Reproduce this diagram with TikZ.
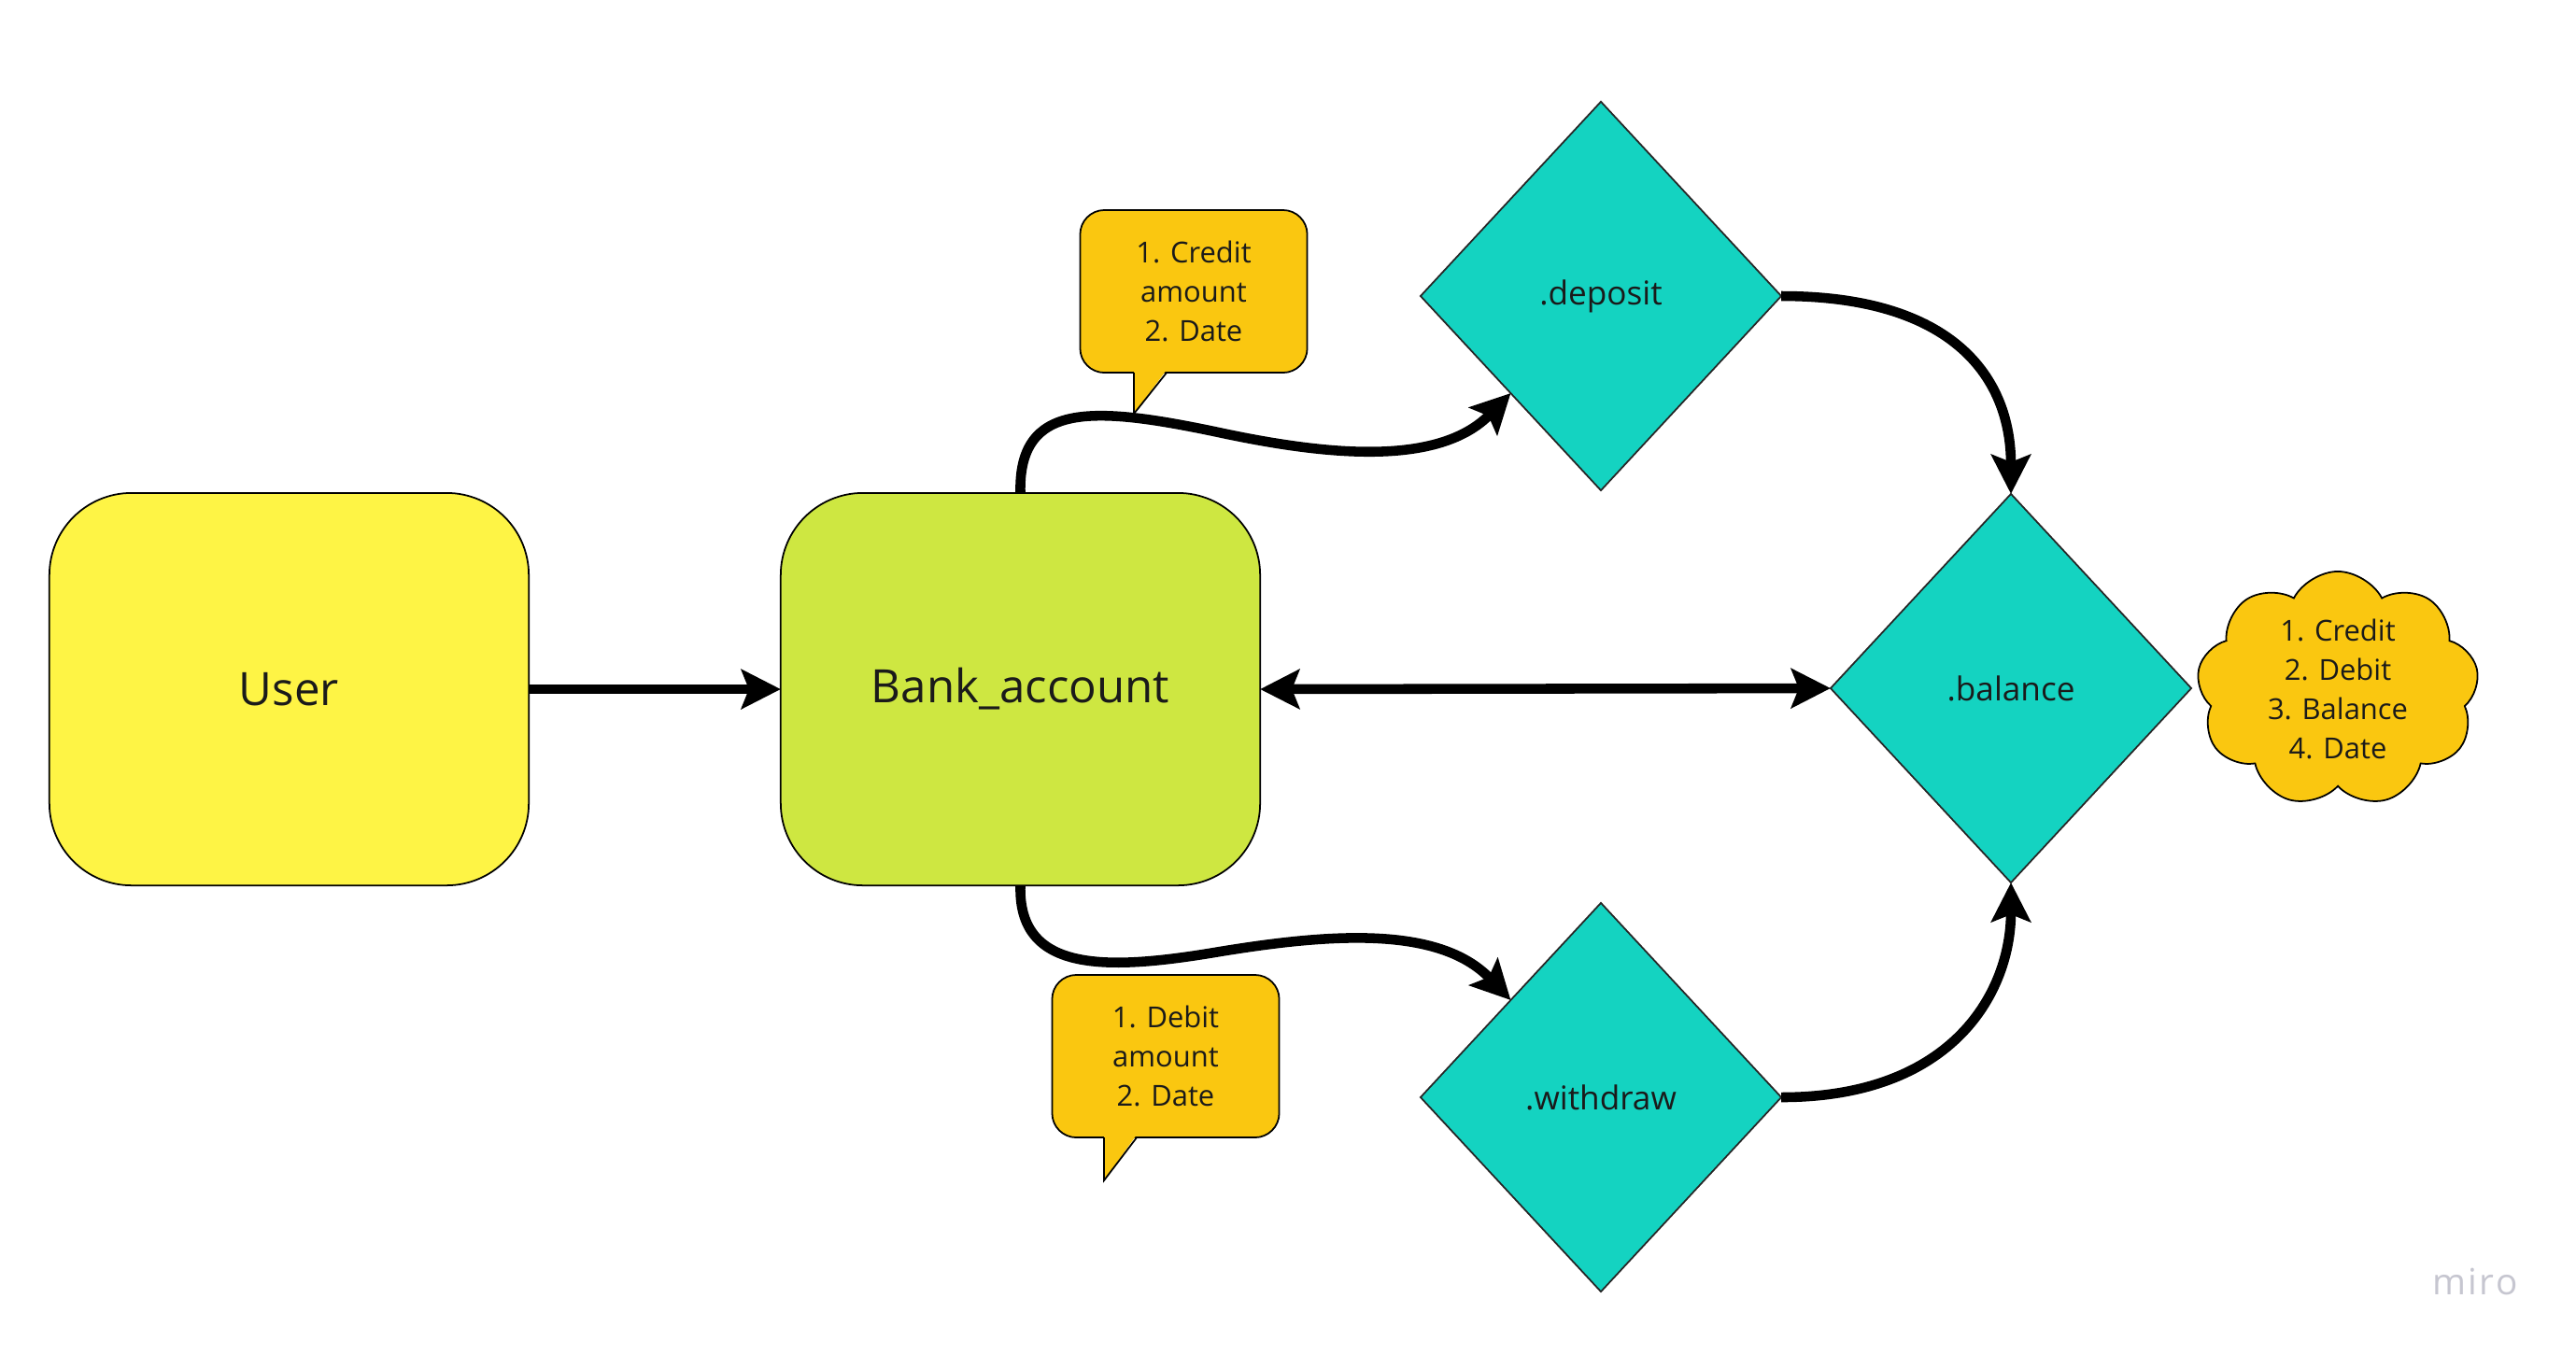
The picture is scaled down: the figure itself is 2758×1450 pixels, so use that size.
\documentclass[tikz,border=0pt]{standalone}
\usepackage{fontspec}
\setmainfont{Open Sans}
\newfontfamily\logofont[LetterSpace=6]{Open Sans}
\usetikzlibrary{shapes.geometric,shapes.symbols,arrows.meta,calc}
\definecolor{userY}{HTML}{FEF445}
\definecolor{bankG}{HTML}{CEE741}
\definecolor{diaT}{HTML}{14D3C1}
\definecolor{noteY}{HTML}{FAC710}
\definecolor{miroG}{HTML}{C6C6D0}
\definecolor{inkK}{HTML}{1A1A1A}
\tikzset{
  bigbox/.style={draw=black, line width=0.5pt, rounded corners=0.88cm,
    minimum width=5.13cm, minimum height=4.2cm, inner sep=0pt, outer sep=0pt,
    text=inkK, font=\fontsize{14}{17}\selectfont},
  dia/.style={diamond, draw=black!85, line width=0.5pt, fill=diaT,
    minimum width=3.86cm, minimum height=4.16cm, inner sep=0pt, outer sep=0pt,
    text=inkK, font=\fontsize{10}{12}\selectfont},
  notebox/.style={draw=black, line width=0.5pt, fill=noteY, rounded corners=0.26cm,
    minimum width=2.43cm, minimum height=1.74cm, inner sep=0pt, outer sep=0pt,
    align=center, text=inkK, font=\fontsize{8.8}{11.9}\selectfont},
  conn/.style={line width=3pt, -{Stealth[length=0.42cm, width=0.42cm, inset=0.08cm]}},
  conn2/.style={line width=3pt, {Stealth[length=0.42cm, width=0.42cm, inset=0.08cm]}-{Stealth[length=0.42cm, width=0.42cm, inset=0.08cm]}},
  tailedge/.style={draw=black, line width=0.5pt, line join=miter},
}
\begin{document}
\begin{tikzpicture}[x=0.01cm, y=-0.01cm]
\useasboundingbox (0,0) rectangle (2758,1450);
\fill[white] (0,0) rectangle (2758,1450);

% main boxes
\node[bigbox, fill=userY] (user) at (309.5,738) {User};
\node[bigbox, fill=bankG] (bank) at (1092.5,738) {Bank\_account};

% diamonds
\node[dia] (dep) at (1714,317) {.deposit};
\node[dia] (bal) at (2153,737) {.balance};
\node[dia] (wd) at (1714,1175) {.withdraw};

% callouts
\node[notebox] (c1) at (1278,312) {1. Credit\\amount\\2. Date};
\fill[noteY] ($(c1.south)+(-64,-3)$) -- ($(c1.south)+(-64,44)$) -- ($(c1.south)+(-29,-3)$) -- cycle;
\draw[tailedge] ($(c1.south)+(-64,0)$) -- ($(c1.south)+(-64,44)$) -- ($(c1.south)+(-29,0)$);

\node[notebox] (c2) at (1248,1131) {1. Debit\\amount\\2. Date};
\fill[noteY] ($(c2.south)+(-66,-3)$) -- ($(c2.south)+(-66,46)$) -- ($(c2.south)+(-31,-3)$) -- cycle;
\draw[tailedge] ($(c2.south)+(-66,0)$) -- ($(c2.south)+(-66,46)$) -- ($(c2.south)+(-31,0)$);

% cloud
\node[cloud, cloud puffs=9, cloud puff arc=125, aspect=1.2, draw=black, line width=0.5pt,
  fill=noteY, minimum width=3.02cm, minimum height=2.52cm, inner sep=0pt,
  align=center, text=inkK, font=\fontsize{8.8}{11.9}\selectfont] (cl) at (2503,738)
  {1. Credit\\2. Debit\\3. Balance\\4. Date};

% connectors
\coordinate (m1) at (1300,462);
\coordinate (m2) at (1300,1020);
\draw[conn] (user.east) -- (bank.west);
\draw[conn2] (bank.east) -- (bal.west);
\draw[conn] (bank.north) .. controls (1090,430) and (1170,435) .. (m1)
  .. controls (1420,488) and (1540,500) .. (dep.south west);
\draw[conn] (bank.south) .. controls (1090,1040) and (1180,1040) .. (m2)
  .. controls (1420,1000) and (1540,990) .. (wd.north west);
\draw[conn] (dep.east) .. controls +(186,0) and +(0,-123) .. (bal.north);
\draw[conn] (wd.east) .. controls +(186,0) and +(0,115) .. (bal.south);

% logo
\node[text=miroG, font=\logofont\fontsize{11}{13}\selectfont] (logo) at (2650,1372) {miro};
\end{tikzpicture}
\end{document}
